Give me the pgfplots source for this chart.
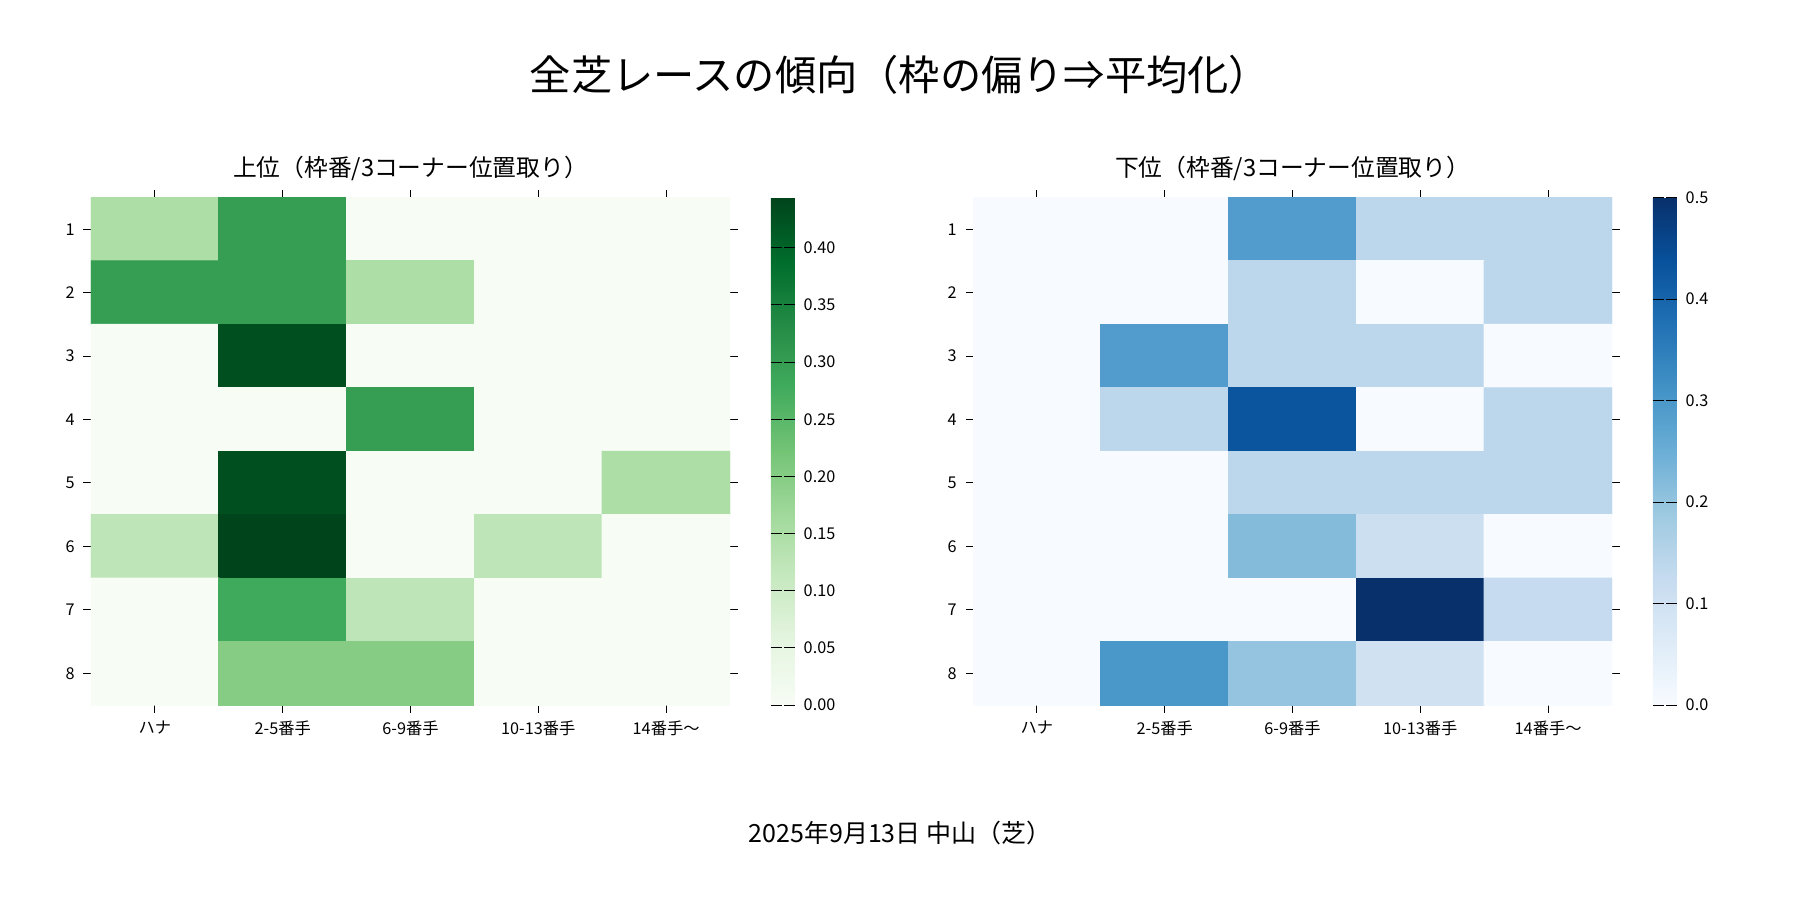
\documentclass[border=0pt]{standalone}
\usepackage{pgfplots}
\pgfplotsset{compat=1.18}
\usepackage{fontspec}
\setmainfont{Noto Sans CJK JP}
\pgfplotsset{
  colormap={greensmpl}{rgb255=(247,252,245) rgb255=(229,245,224) rgb255=(199,233,192) rgb255=(161,217,155) rgb255=(116,196,118) rgb255=(65,171,93) rgb255=(35,139,69) rgb255=(0,109,44) rgb255=(0,68,27)},
  colormap={bluesmpl}{rgb255=(247,251,255) rgb255=(222,235,247) rgb255=(198,219,239) rgb255=(158,202,225) rgb255=(107,174,214) rgb255=(66,146,198) rgb255=(33,113,181) rgb255=(8,81,156) rgb255=(8,48,107)},
  hm/.style={
    width=255.6pt, height=203pt, scale only axis,
    xmin=-0.5, xmax=4.5, ymin=0.5, ymax=8.5, y dir=reverse,
    xtick={0,...,4}, xticklabels={ハナ,2-5番手,6-9番手,10-13番手,14番手〜},
    ytick={1,...,8},
    axis line style={draw=none},
    tick style={black, thin}, tick align=outside, major tick length=3pt,
    tick label style={font=\fontsize{6.5}{7}\selectfont},
    /pgf/number format/assume math mode=true,
    title style={font=\fontsize{9.5}{11}\selectfont, yshift=-3pt},
    colorbar,
    colorbar style={width=9.6pt, at={(1.064,1)}, anchor=north west,
      axis line style={draw=none},
      tick label style={font=\fontsize{6.5}{7}\selectfont},
      /pgf/number format/assume math mode=true,
      /pgf/number format/fixed, /pgf/number format/fixed zerofill},
  }
}
\begin{document}
\begin{tikzpicture}
\path[use as bounding box] (0,0) rectangle (720pt,360pt);
\node[font=\fontsize{16.5}{18}\selectfont] at (360pt,330pt) {全芝レースの傾向（枠の偏り⇒平均化）};
\node[font=\fontsize{10}{12}\selectfont] at (360pt,27pt) {2025年9月13日 中山（芝）};
\begin{axis}[hm, at={(36.4pt,78pt)}, anchor=south west,
  title={上位（枠番/3コーナー位置取り）},
  colormap name=greensmpl, point meta min=0, point meta max=0.444,
  colorbar style={ytick={0,0.05,...,0.4}, /pgf/number format/precision=2}]
\addplot[matrix plot*, mesh/cols=5, point meta=explicit] table[meta=z] {
x y z
0 1 0.15
1 1 0.30
2 1 0
3 1 0
4 1 0
0 2 0.30
1 2 0.30
2 2 0.15
3 2 0
4 2 0
0 3 0
1 3 0.43
2 3 0
3 3 0
4 3 0
0 4 0
1 4 0
2 4 0.30
3 4 0
4 4 0
0 5 0
1 5 0.43
2 5 0
3 5 0
4 5 0.15
0 6 0.125
1 6 0.444
2 6 0
3 6 0.125
4 6 0
0 7 0
1 7 0.28
2 7 0.125
3 7 0
4 7 0
0 8 0
1 8 0.20
2 8 0.20
3 8 0
4 8 0
};
\end{axis}
\begin{axis}[hm, at={(389.2pt,78pt)}, anchor=south west,
  title={下位（枠番/3コーナー位置取り）},
  colormap name=bluesmpl, point meta min=0, point meta max=0.5,
  colorbar style={ytick={0,0.1,...,0.5}, /pgf/number format/precision=1}]
\addplot[matrix plot*, mesh/cols=5, point meta=explicit] table[meta=z] {
x y z
0 1 0
1 1 0
2 1 0.29
3 1 0.14
4 1 0.14
0 2 0
1 2 0
2 2 0.14
3 2 0
4 2 0.14
0 3 0
1 3 0.29
2 3 0.14
3 3 0.14
4 3 0
0 4 0
1 4 0.14
2 4 0.43
3 4 0
4 4 0.14
0 5 0
1 5 0
2 5 0.14
3 5 0.14
4 5 0.14
0 6 0
1 6 0
2 6 0.22
3 6 0.11
4 6 0
0 7 0
1 7 0
2 7 0
3 7 0.5
4 7 0.125
0 8 0
1 8 0.30
2 8 0.20
3 8 0.10
4 8 0
};
\end{axis}
\end{tikzpicture}
\end{document}
